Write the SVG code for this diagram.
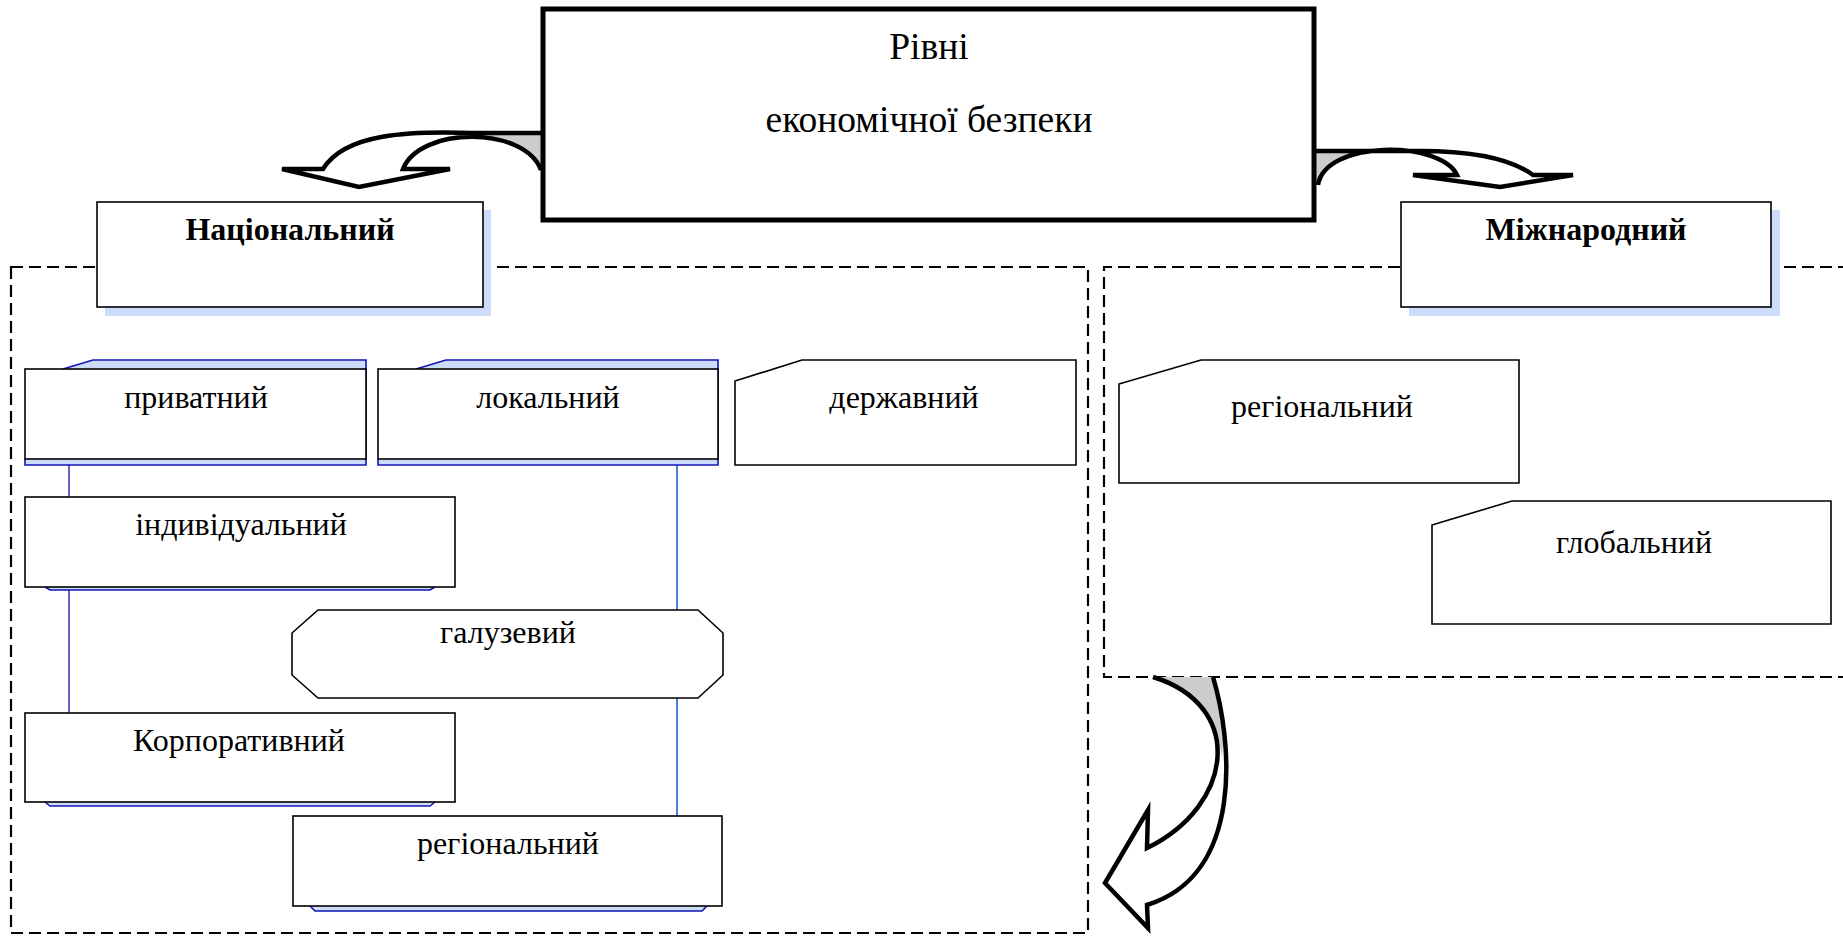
<svg xmlns="http://www.w3.org/2000/svg" width="1843" height="940" viewBox="0 0 1843 940">
<style>
text{font-family:"Liberation Serif","Times New Roman",serif;font-size:32px;fill:#000;text-anchor:middle}
.b{font-weight:bold}
.t{font-size:37.5px}
.box{fill:#fff;stroke:#000;stroke-width:1.6}
.tab{fill:#cddcf8;stroke:#1414b4;stroke-width:1.6}
.dash{fill:none;stroke:#000;stroke-width:2.2;stroke-dasharray:12 6}
.ar{fill:none;stroke:#000;stroke-width:4.5;stroke-linejoin:miter}
.grey{fill:#cccccc;stroke:none}
.wh{fill:#fff;stroke:none}
</style>
<rect width="1843" height="940" fill="#fff"/>
<g id="containers">
<rect class="dash" x="11" y="267" width="1077" height="666"/>
<path class="dash" d="M1850,267 L1104,267 L1104,677 L1850,677"/>
</g>
<g id="connectors">
<line x1="69" y1="465" x2="69" y2="497" stroke="#3b3bb0" stroke-width="1.6"/>
<line x1="69" y1="587" x2="69" y2="713" stroke="#3b3bb0" stroke-width="1.6"/>
<line x1="677" y1="465" x2="677" y2="610" stroke="#1f5fd0" stroke-width="1.6"/>
<line x1="677" y1="698" x2="677" y2="816" stroke="#1f5fd0" stroke-width="1.6"/>
<g id="arrow-left">
<path class="wh" d="M472,133 C410,131 345,133 323,169 L282,169 L359,187 L450,169 L403,169 C411.5,147.5 442,136.75 472.25,136.6 Z"/>
<path class="grey" d="M543,133 L472,133 L472.25,136.6 C502.5,136.5 532.5,147 543,170 Z"/>
<path class="ar" d="M541,133 L472,133 C410,131 345,133 323,169 L282,169 L359,187 L450,169 L403,169 C420,126 525,126 541,170"/>
</g>
<g id="arrow-right">
<path class="wh" d="M1383.75,151 L1420,151 C1470,151 1510,158 1533,175 L1573,175 L1500,187 L1413,175 L1457,175 C1448.5,157.5 1415.5,148.75 1383.75,151 Z"/>
<path class="grey" d="M1314,151 L1383.75,151 C1352,151.25 1321.5,162.5 1318,185 L1314,185 Z"/>
<path class="ar" d="M1316,151 L1420,151 C1470,151 1510,158 1533,175 L1573,175 L1500,187 L1413,175 L1457,175 C1440,140 1325,140 1318,185"/>
</g>
<g id="arrow-down">
<path class="wh" d="M1153,677 L1213,677 C1232,740 1245,875 1147,905 L1148,928 L1105,883 L1148,810 L1147,848 C1235,805 1245,705 1153,677 Z"/>
<path class="grey" d="M1153,677 L1213,677 Q1227,715 1222,757 Q1212,700 1153,677 Z"/>
<path class="ar" d="M1153,677 C1245,705 1235,805 1147,848 L1148,810 L1105,883 L1148,928 L1147,905 C1245,875 1232,740 1213,677"/>
</g>
</g>
<g id="main">
<rect x="543" y="9" width="771" height="211" fill="#fff" stroke="#000" stroke-width="5"/>
<text class="t" x="929" y="59">Рівні</text>
<text class="t" x="929" y="132">економічної безпеки</text>
</g>
<g id="natsionalnyi">
<rect x="105" y="210" width="386" height="106" fill="#cddcfa"/>
<rect class="box" x="97" y="202" width="386" height="105"/>
<text class="b" x="290" y="240">Національний</text>
</g>
<g id="mizhnarodnyi">
<rect x="1409" y="210" width="371" height="106" fill="#cddcfa"/>
<rect class="box" x="1401" y="202" width="370" height="105"/>
<text class="b" x="1586" y="240">Міжнародний</text>
</g>
<g id="pryvatnyi">
<path class="tab" d="M63,369 L93,360 L366,360 L366,465 L25,465 L25,459"/>
<rect class="box" x="25" y="369" width="341" height="90"/>
<text x="196" y="408">приватний</text>
</g>
<g id="lokalnyi">
<path class="tab" d="M416,369 L446,360 L718,360 L718,465 L378,465 L378,459"/>
<rect class="box" x="378" y="369" width="340" height="90"/>
<text x="548" y="408">локальний</text>
</g>
<g id="derzhavnyi">
<path class="box" d="M735,381 L802,360 L1076,360 L1076,465 L735,465 Z"/>
<text x="904" y="408">державний</text>
</g>
<g id="indyvidualnyi">
<path class="tab" d="M45,587 L50,590 L430,590 L435,587"/>
<rect class="box" x="25" y="497" width="430" height="90"/>
<text x="241" y="535">індивідуальний</text>
</g>
<g id="haluzevyi">
<path class="box" d="M318,610 L698,610 L723,633 L723,675 L698,698 L318,698 L292,675 L292,633 Z"/>
<text x="508" y="643">галузевий</text>
</g>
<g id="korporatyvnyi">
<path class="tab" d="M45,802 L50,806 L430,806 L435,802"/>
<rect class="box" x="25" y="713" width="430" height="89"/>
<text x="239" y="751">Корпоративний</text>
</g>
<g id="rehionalnyi-nat">
<path class="tab" d="M310,906 L315,911 L702,911 L707,906"/>
<rect class="box" x="293" y="816" width="429" height="90"/>
<text x="508" y="854">регіональний</text>
</g>
<g id="rehionalnyi-int">
<path class="box" d="M1119,384 L1201,360 L1519,360 L1519,483 L1119,483 Z"/>
<text x="1322" y="417">регіональний</text>
</g>
<g id="hlobalnyi">
<path class="box" d="M1432,525 L1512,501 L1831,501 L1831,624 L1432,624 Z"/>
<text x="1634" y="553">глобальний</text>
</g>
</svg>
